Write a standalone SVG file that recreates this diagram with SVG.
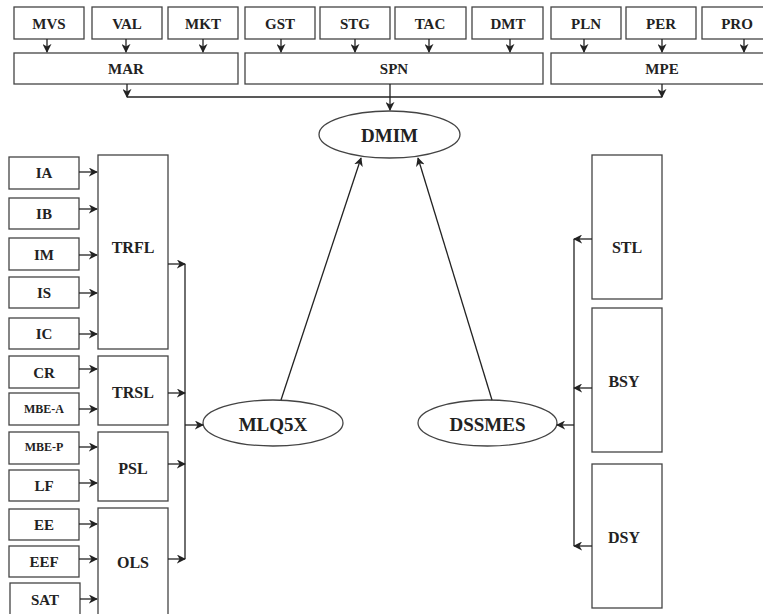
<svg xmlns="http://www.w3.org/2000/svg" width="763" height="614" viewBox="0 0 763 614">
<defs>
<marker id="ah" viewBox="0 0 10 10" refX="9" refY="5" markerWidth="9" markerHeight="9" markerUnits="userSpaceOnUse" orient="auto">
<path d="M0,0 L10,5 L0,10 L3,5 Z" fill="#222"/>
</marker>
</defs>
<style>
.b{fill:#fff;stroke:#444;stroke-width:1.3}
.t{font-family:"Liberation Serif",serif;font-weight:bold;fill:#222;text-anchor:middle;dominant-baseline:central;font-size:15px}
.s{font-size:12px}
.m{font-size:16px}
.l{font-size:19px}
.c{fill:none;stroke:#222;stroke-width:1.3}
.a{marker-end:url(#ah)}
</style>
<rect width="763" height="614" fill="#fff"/>
<g id="MVS"><rect class="b" x="14" y="7" width="70" height="32"/><text class="t" x="49" y="24">MVS</text></g>
<g id="VAL"><rect class="b" x="92" y="7" width="70" height="32"/><text class="t" x="127" y="24">VAL</text></g>
<g id="MKT"><rect class="b" x="168" y="7" width="70" height="32"/><text class="t" x="203" y="24">MKT</text></g>
<g id="GST"><rect class="b" x="245" y="7" width="70" height="32"/><text class="t" x="280" y="24">GST</text></g>
<g id="STG"><rect class="b" x="320" y="7" width="70" height="32"/><text class="t" x="355" y="24">STG</text></g>
<g id="TAC"><rect class="b" x="395" y="7" width="71" height="32"/><text class="t" x="430" y="24">TAC</text></g>
<g id="DMT"><rect class="b" x="472" y="7" width="71" height="32"/><text class="t" x="508" y="24">DMT</text></g>
<g id="PLN"><rect class="b" x="551" y="7" width="70" height="32"/><text class="t" x="586" y="24">PLN</text></g>
<g id="PER"><rect class="b" x="626" y="7" width="70" height="32"/><text class="t" x="661" y="24">PER</text></g>
<g id="PRO"><rect class="b" x="702" y="7" width="70" height="32"/><text class="t" x="737" y="24">PRO</text></g>
<g id="MAR"><rect class="b" x="14" y="53" width="224" height="31"/><text class="t" x="126" y="69">MAR</text></g>
<g id="SPN"><rect class="b" x="245" y="53" width="298" height="31"/><text class="t" x="394" y="69">SPN</text></g>
<g id="MPE"><rect class="b" x="551" y="53" width="230" height="31"/><text class="t" x="662" y="69">MPE</text></g>
<g id="DMIM"><ellipse class="b" cx="389.5" cy="134.5" rx="70.5" ry="23.5"/><text class="t l" x="389.5" y="135">DMIM</text></g>
<g id="IA"><rect class="b" x="9" y="157" width="70" height="32"/><text class="t" x="44" y="173">IA</text></g>
<g id="IB"><rect class="b" x="9" y="198" width="70" height="31"/><text class="t" x="44" y="214">IB</text></g>
<g id="IM"><rect class="b" x="9" y="238" width="70" height="32"/><text class="t" x="44" y="255">IM</text></g>
<g id="IS"><rect class="b" x="9" y="277" width="70" height="31"/><text class="t" x="44" y="293">IS</text></g>
<g id="IC"><rect class="b" x="9" y="318" width="70" height="31"/><text class="t" x="44" y="334">IC</text></g>
<g id="CR"><rect class="b" x="9" y="356" width="70" height="32"/><text class="t" x="44" y="373">CR</text></g>
<g id="MBE-A"><rect class="b" x="9" y="393" width="70" height="32"/><text class="t s" x="44" y="409">MBE-A</text></g>
<g id="MBE-P"><rect class="b" x="9" y="432" width="70" height="32"/><text class="t s" x="44" y="447">MBE-P</text></g>
<g id="LF"><rect class="b" x="9" y="470" width="70" height="31"/><text class="t" x="44" y="486">LF</text></g>
<g id="EE"><rect class="b" x="9" y="509" width="70" height="31"/><text class="t" x="44" y="525">EE</text></g>
<g id="EEF"><rect class="b" x="9" y="546" width="70" height="31"/><text class="t" x="44" y="562">EEF</text></g>
<g id="SAT"><rect class="b" x="10" y="583" width="70" height="40"/><text class="t" x="45" y="600">SAT</text></g>
<g id="TRFL"><rect class="b" x="98" y="155" width="70" height="194"/><text class="t m" x="133" y="247">TRFL</text></g>
<g id="TRSL"><rect class="b" x="98" y="356" width="70" height="69"/><text class="t m" x="133" y="392">TRSL</text></g>
<g id="PSL"><rect class="b" x="98" y="432" width="70" height="69"/><text class="t m" x="133" y="468">PSL</text></g>
<g id="OLS"><rect class="b" x="98" y="508" width="70" height="115"/><text class="t m" x="133" y="562">OLS</text></g>
<g id="MLQ5X"><ellipse class="b" cx="273" cy="423" rx="70" ry="23"/><text class="t l" x="273" y="424">MLQ5X</text></g>
<g id="DSSMES"><ellipse class="b" cx="487.5" cy="423" rx="69.5" ry="23"/><text class="t l" x="487.5" y="424">DSSMES</text></g>
<g id="STL"><rect class="b" x="592" y="155" width="70" height="144"/><text class="t m" x="627" y="247">STL</text></g>
<g id="BSY"><rect class="b" x="592" y="308" width="70" height="144"/><text class="t m" x="624" y="381">BSY</text></g>
<g id="DSY"><rect class="b" x="592" y="464" width="70" height="144"/><text class="t m" x="624" y="537">DSY</text></g>
<g id="connectors">
<line class="c a" x1="47" y1="39" x2="47" y2="52"/>
<line class="c a" x1="126" y1="39" x2="126" y2="52"/>
<line class="c a" x1="203" y1="39" x2="203" y2="52"/>
<line class="c a" x1="281" y1="39" x2="281" y2="52"/>
<line class="c a" x1="355" y1="39" x2="355" y2="52"/>
<line class="c a" x1="429" y1="39" x2="429" y2="52"/>
<line class="c a" x1="510" y1="39" x2="510" y2="52"/>
<line class="c a" x1="584" y1="39" x2="584" y2="52"/>
<line class="c a" x1="662" y1="39" x2="662" y2="52"/>
<line class="c a" x1="744" y1="39" x2="744" y2="52"/>
<line class="c a" x1="127" y1="84" x2="127" y2="97"/>
<line class="c a" x1="662" y1="84" x2="662" y2="97"/>
<line class="c" x1="127" y1="97" x2="662" y2="97"/>
<line class="c a" x1="390" y1="84" x2="390" y2="110"/>
<line class="c a" x1="79" y1="172" x2="97" y2="172"/>
<line class="c a" x1="79" y1="209" x2="97" y2="209"/>
<line class="c a" x1="79" y1="255" x2="97" y2="255"/>
<line class="c a" x1="79" y1="293" x2="97" y2="293"/>
<line class="c a" x1="79" y1="334" x2="97" y2="334"/>
<line class="c a" x1="79" y1="369" x2="97" y2="369"/>
<line class="c a" x1="79" y1="409" x2="97" y2="409"/>
<line class="c a" x1="79" y1="447" x2="97" y2="447"/>
<line class="c a" x1="79" y1="483" x2="97" y2="483"/>
<line class="c a" x1="79" y1="524" x2="97" y2="524"/>
<line class="c a" x1="79" y1="559" x2="97" y2="559"/>
<line class="c a" x1="80" y1="599" x2="97" y2="599"/>
<line class="c" x1="185" y1="264" x2="185" y2="559"/>
<line class="c a" x1="168" y1="264" x2="185" y2="264"/>
<line class="c a" x1="168" y1="393" x2="185" y2="393"/>
<line class="c a" x1="168" y1="464" x2="185" y2="464"/>
<line class="c a" x1="168" y1="559" x2="185" y2="559"/>
<line class="c a" x1="185" y1="425" x2="203" y2="425"/>
<line class="c a" x1="281" y1="400" x2="361" y2="158"/>
<line class="c a" x1="492" y1="400" x2="418" y2="158"/>
<line class="c" x1="574" y1="239" x2="574" y2="546"/>
<line class="c a" x1="592" y1="239" x2="574" y2="239"/>
<line class="c a" x1="592" y1="388" x2="574" y2="388"/>
<line class="c a" x1="592" y1="546" x2="574" y2="546"/>
<line class="c a" x1="574" y1="425" x2="557" y2="425"/>
</g>
</svg>
